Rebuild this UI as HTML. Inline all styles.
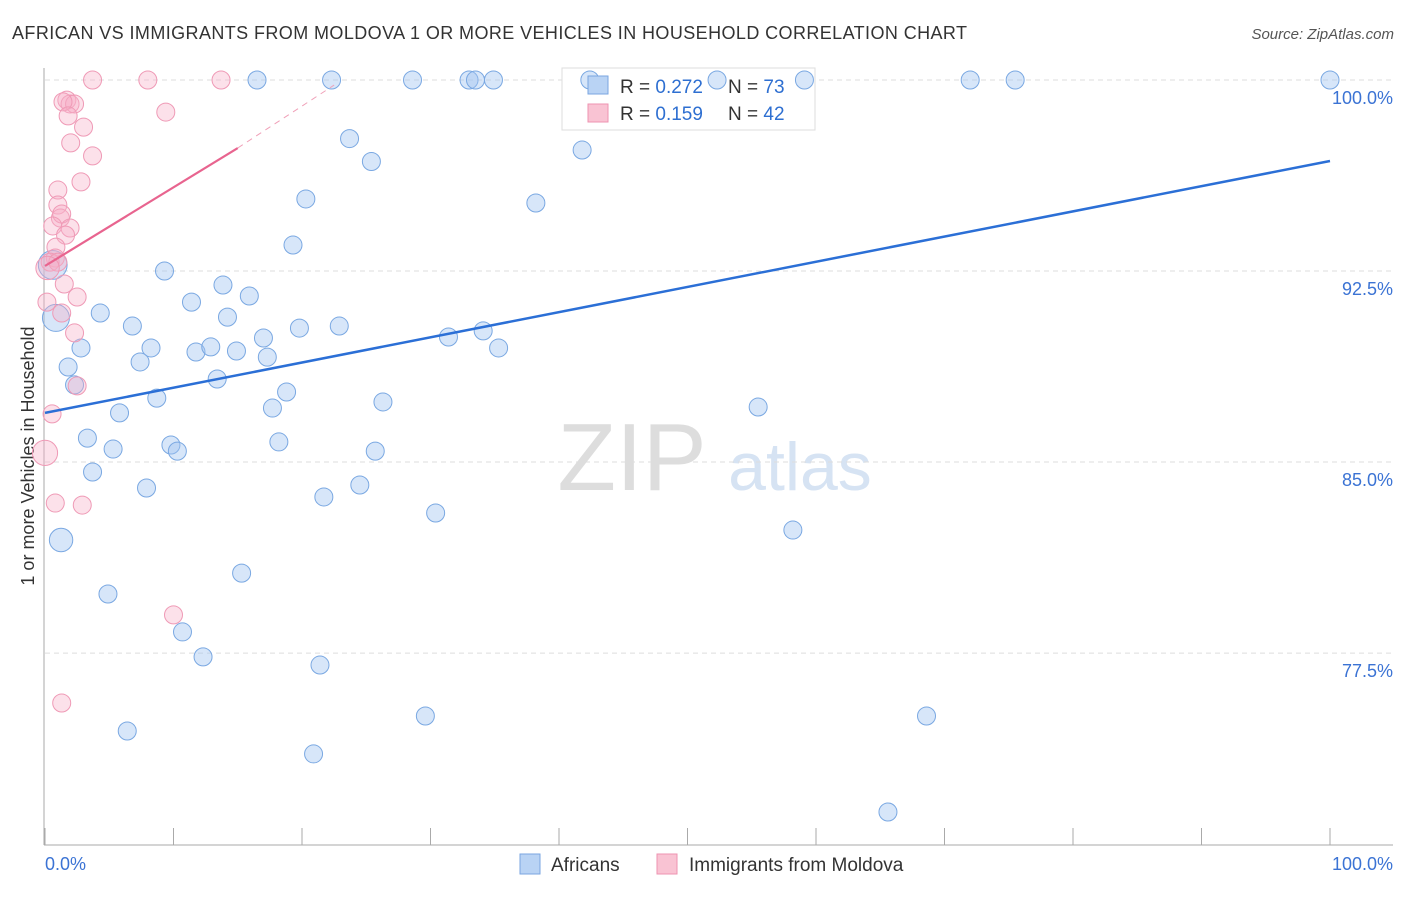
<!DOCTYPE html>
<html><head><meta charset="utf-8"><style>
body{margin:0;background:#fff;font-family:"Liberation Sans",sans-serif}
svg text{font-family:"Liberation Sans",sans-serif}
</style></head><body>
<svg id="c" width="1406" height="892">
<text x="12" y="39" font-size="18" fill="#333" textLength="955" lengthAdjust="spacing">AFRICAN VS IMMIGRANTS FROM MOLDOVA 1 OR MORE VEHICLES IN HOUSEHOLD CORRELATION CHART</text>
<text x="1394" y="39" font-size="15" fill="#555" font-style="italic" text-anchor="end">Source: ZipAtlas.com</text>
<text transform="translate(34,456) rotate(-90)" font-size="18" fill="#333" text-anchor="middle">1 or more Vehicles in Household</text>
<g><text x="632" y="490" font-size="96" fill="#ddd" font-family="Liberation Serif" text-anchor="middle">ZIP</text><text x="800" y="490" font-size="68" fill="#d6e3f3" text-anchor="middle">atlas</text></g>
<g id="grid"></g>
<g>
<rect x="562" y="68" width="253" height="62" fill="#fff" stroke="#ddd"/>
</g>
<g id="marks"></g>
<g>
<rect x="588" y="76" width="20" height="18" fill="#b9d3f4" stroke="#7aa6e0"/>
<rect x="588" y="104" width="20" height="18" fill="#f9c3d3" stroke="#ee93b0"/>
<text x="620" y="93" font-size="19" fill="#333">R = <tspan fill="#2e6fd1">0.272</tspan></text>
<text x="728" y="93" font-size="19" fill="#333">N = <tspan fill="#2e6fd1">73</tspan></text>
<text x="620" y="120" font-size="19" fill="#333">R = <tspan fill="#2e6fd1"> 0.159</tspan></text>
<text x="728" y="120" font-size="19" fill="#333">N = <tspan fill="#2e6fd1">42</tspan></text>
</g>
<g>
<rect x="520" y="854" width="20" height="20" fill="#b9d3f4" stroke="#7aa6e0"/>
<text x="551" y="871" font-size="19" fill="#333">Africans</text>
<rect x="657" y="854" width="20" height="20" fill="#f9c3d3" stroke="#ee93b0"/>
<text x="689" y="871" font-size="19" fill="#333">Immigrants from Moldova</text>
</g>
</svg>
<script>
const yTicks=[100,92.5,85,77.5];
const yTickLabels=["100.0%","92.5%","85.0%","77.5%"];
const xEnds=["0.0%","100.0%"];
const africans=[[16.5,100],[22.3,100],[28.6,100],[33,100],[33.5,100],[34.9,100],[42.4,100],[52.3,100],[59.1,100],[72,100],[75.5,100],[100,100],
[23.7,97.7],[25.4,96.8],[41.8,97.25],[38.2,95.17],[20.3,95.33],[19.3,93.52],[9.3,92.5],[13.85,91.95],[15.9,91.52],[11.4,91.28],[4.3,90.85],[14.2,90.69],[6.8,90.34],[19.8,90.26],[22.9,90.34],[17,89.87],[31.4,89.91],[34.1,90.15],[35.3,89.48],[2.8,89.48],[8.25,89.48],[11.75,89.32],[12.9,89.52],[14.9,89.36],[17.3,89.12],[7.4,88.93],[1.8,88.73],[13.4,88.26],[2.3,88.03],[18.8,87.75],[8.7,87.51],[26.3,87.36],[17.7,87.12],[5.8,86.93],[55.5,87.16],[3.3,85.94],[9.8,85.67],[5.3,85.51],[10.3,85.43],[18.2,85.79],[25.7,85.43],[3.7,84.61],[7.9,83.98],[21.7,83.63],[24.5,84.1],[30.4,83],[58.2,82.33],[1.25,81.94,1.3],[15.3,80.64],[4.9,79.82],[10.7,78.33],[12.3,77.35],[21.4,77.03],[29.6,75.03],[68.6,75.03],[6.4,74.44],[20.9,73.54],[65.6,71.26],[0.6,92.74,1.6],[0.85,90.66,1.5]];
const moldova=[[3.7,100],[8,100],[13.7,100],[9.4,98.74],[1.7,99.21],[1.95,99.06],[2.3,99.06],[1.4,99.14],[1.8,98.59],[3,98.15],[2,97.53],[3.7,97.02],[2.8,96],[1,95.68],[1,95.09],[1.2,94.58],[1.3,94.74],[0.6,94.27],[1.95,94.19],[1.6,93.91],[0.85,93.44],[0.8,93.01],[0.4,92.85],[1,92.85],[0.2,92.62,1.3],[0.15,91.28],[1.5,91.99],[2.5,91.48],[1.3,90.85],[2.3,90.07],[2.5,87.99],[0.55,86.89],[0,85.36,1.4],[0.8,83.39],[2.9,83.31],[10,79],[1.3,75.54]];
const blueTrend=[[0,86.93],[100,96.82]];
const pinkTrend=[[0,92.7],[15,97.33],[22.5,99.8]];
const X=v=>45+v*12.85, Y=v=>80+(100-v)*25.47;
const NS="http://www.w3.org/2000/svg";
const grid=document.getElementById('grid'), marks=document.getElementById('marks');
function mk(tag,at,parent){const e=document.createElementNS(NS,tag);for(const k in at)e.setAttribute(k,at[k]);parent.appendChild(e);return e;}
yTicks.forEach((t,i)=>{
 const l=mk('line',{x1:45,x2:1393,y1:Y(t),y2:Y(t),stroke:'#ddd','stroke-dasharray':'5,4'},grid);
 
 
 const tx=mk('text',{x:1393,y:Y(t)+24,'font-size':18,fill:'#3b73d4','text-anchor':'end'},grid);
 tx.textContent=yTickLabels[i];
 
 
});
const ax=mk('line',{x1:44,x2:44,y1:68,y2:845,stroke:'#aaa'},grid);


const bx=mk('line',{x1:44,x2:1393,y1:845,y2:845,stroke:'#aaa'},grid);


for(let i=0;i<=10;i++){const t=mk('line',{x1:X(i*10),x2:X(i*10),y1:828,y2:845,stroke:'#aaa'},grid);
 
 }
xEnds.forEach((s,i)=>{const t=mk('text',{x:i?1393:45,y:870,'font-size':18,fill:'#3b73d4','text-anchor':i?'end':'start'},grid);t.textContent=s;
 
 });
function pts(arr,fill,stroke,name){arr.forEach(p=>{const c=mk('circle',{cx:X(p[0]),cy:Y(p[1]),r:9*(p[2]||1),fill:fill,stroke:stroke,'stroke-width':1},marks);
 
 });}
pts(africans,'rgba(160,196,240,0.42)','#7aa8e2','african-point');
pts(moldova,'rgba(246,176,199,0.38)','#ef9ab6','moldova-point');
const bl=mk('line',{x1:X(blueTrend[0][0]),y1:Y(blueTrend[0][1]),x2:X(blueTrend[1][0]),y2:Y(blueTrend[1][1]),stroke:'#2b6fd6','stroke-width':2.5},marks);


const pl=mk('line',{x1:X(pinkTrend[0][0]),y1:Y(pinkTrend[0][1]),x2:X(pinkTrend[1][0]),y2:Y(pinkTrend[1][1]),stroke:'#e8648f','stroke-width':2.2},marks);


const pd=mk('line',{x1:X(pinkTrend[1][0]),y1:Y(pinkTrend[1][1]),x2:X(pinkTrend[2][0]),y2:Y(pinkTrend[2][1]),stroke:'#f0a0b8','stroke-width':1,'stroke-dasharray':'6,5'},marks);


</script>
</body></html>
